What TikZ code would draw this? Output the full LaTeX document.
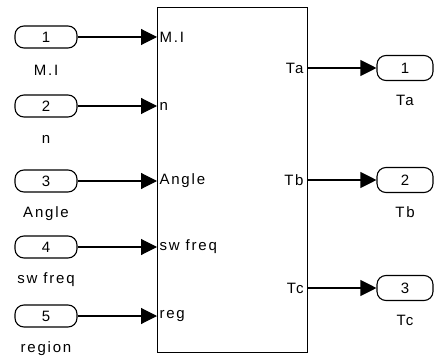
\documentclass[tikz,border=0pt]{standalone}
\usepackage{fontspec}
\usetikzlibrary{arrows.meta}
\newfontfamily\simfont{Liberation Sans}[LetterSpace=12]

\begin{document}
\begin{tikzpicture}[x=1pt,y=-1pt,line width=1.1pt,
    font=\simfont\fontsize{15}{17}\selectfont,
    inport/.style={draw,rounded corners=9pt,minimum width=62pt,minimum height=22pt,inner sep=0pt},
    outport/.style={draw,rounded corners=9pt,minimum width=56pt,minimum height=25pt,inner sep=0pt},
    sig/.style={-{Triangle[length=16pt 0 0,width=16pt 0 0]}}]
    \useasboundingbox (0,0) rectangle (435,363);

    % 子系统方框
    \node (blk) [draw,minimum width=150pt,minimum height=345pt,inner sep=0pt,anchor=north west] at (157,7) {};

    % 输入端口
    \foreach \y/\n/\pin/\lab [count=\i] in {37/1/M.I/M.I, 106/2/n/n, 181/3/Angle/Angle, 247/4/sw freq/sw freq, 316/5/reg/region} {
        \node (in\i) [inport] at (46,\y) {\n};
        \node (inlab\i) at (46,\y+33) {\lab};
        \draw[sig] (in\i.east) -- (in\i.east -| blk.west);
        \node (pin\i) [anchor=west,inner sep=2pt] at (blk.west |- in\i) {\pin};
    }

    % 输出端口
    \foreach \y/\n/\lab [count=\i] in {68/1/Ta, 180/2/Tb, 288/3/Tc} {
        \node (out\i) [outport] at (405,\y) {\n};
        \node (outlab\i) at (405,\y+32) {\lab};
        \draw[sig] (out\i -| blk.east) -- (out\i.west);
        \node (pout\i) [anchor=east,inner sep=4pt] at (blk.east |- out\i) {\lab};
    }
\end{tikzpicture}
\end{document}
